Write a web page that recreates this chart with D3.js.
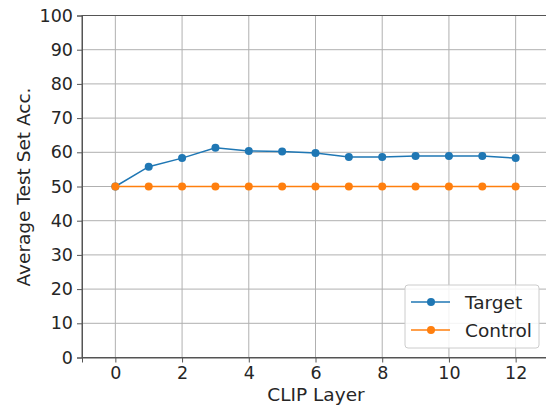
<!DOCTYPE html>
<html>
<head>
<meta charset="utf-8">
<script src="https://cdn.jsdelivr.net/npm/d3@7.9.0/dist/d3.min.js"></script>
<style>
  body { margin: 0; background: #fff; }
  text { font-family: "DejaVu Sans", sans-serif; fill: #262626; }
</style>
</head>
<body>
<svg id="chart" width="546" height="407"></svg>
<script>
const layers = [0, 1, 2, 3, 4, 5, 6, 7, 8, 9, 10, 11, 12];
const targetAcc = [50, 55.8, 58.3, 61.3, 60.4, 60.2, 59.8, 58.6, 58.6, 58.9, 58.9, 58.9, 58.3];
const controlAcc = [50, 50, 50, 50, 50, 50, 50, 50, 50, 50, 50, 50, 50];
const xTicks = [0, 2, 4, 6, 8, 10, 12];
const yTicks = [0, 10, 20, 30, 40, 50, 60, 70, 80, 90, 100];

const series = [
  { name: "Target", values: targetAcc, color: "#1f77b4" },
  { name: "Control", values: controlAcc, color: "#ff7f0e" }
];

const svg = d3.select("#chart");
const area = { left: 82, right: 549, top: 15.5, bottom: 357.5 };

const x = d3.scaleLinear().domain([-1, 13]).range([area.left, area.right]);
const y = d3.scaleLinear().domain([0, 100]).range([area.bottom, area.top]);

// grid
const grid = svg.append("g").attr("stroke", "#b0b0b0").attr("stroke-width", 1);
grid.selectAll(".gx").data(xTicks).join("line")
  .attr("x1", (d) => x(d)).attr("x2", (d) => x(d))
  .attr("y1", area.top).attr("y2", area.bottom);
grid.selectAll(".gy").data(yTicks).join("line")
  .attr("x1", area.left).attr("x2", area.right)
  .attr("y1", (d) => y(d)).attr("y2", (d) => y(d));

// frame
svg.append("rect")
  .attr("x", area.left).attr("y", area.top)
  .attr("width", area.right - area.left).attr("height", area.bottom - area.top)
  .attr("fill", "none").attr("stroke", "#555").attr("stroke-width", 1);

// axes
const xAxis = svg.append("g")
  .attr("transform", `translate(0,${area.bottom})`)
  .call(d3.axisBottom(x).tickValues(xTicks).tickSize(5).tickPadding(4));
const yAxis = svg.append("g")
  .attr("transform", `translate(${area.left},0)`)
  .call(d3.axisLeft(y).tickValues(yTicks).tickSize(5).tickPadding(4));
[xAxis, yAxis].forEach((a) => {
  a.select(".domain").attr("stroke", "#555");
  a.selectAll(".tick line").attr("stroke", "#555");
  a.selectAll(".tick text")
    .attr("font-family", "DejaVu Sans, sans-serif")
    .attr("font-size", 17.5)
    .attr("fill", "#262626");
});

// lines
const line = d3.line().x((d, i) => x(layers[i])).y((d) => y(d));
series.forEach((s) => {
  svg.append("path")
    .datum(s.values)
    .attr("fill", "none")
    .attr("stroke", s.color)
    .attr("stroke-width", 1.5)
    .attr("d", line);
  svg.append("g").selectAll("circle").data(s.values).join("circle")
    .attr("cx", (d, i) => x(layers[i]))
    .attr("cy", (d) => y(d))
    .attr("r", 4)
    .attr("fill", s.color);
});

// axis labels
svg.append("text")
  .attr("x", 316).attr("y", 401)
  .attr("text-anchor", "middle")
  .attr("font-size", 18.5)
  .text("CLIP Layer");
svg.append("text")
  .attr("transform", `translate(30,187) rotate(-90)`)
  .attr("text-anchor", "middle")
  .attr("font-size", 18.5)
  .text("Average Test Set Acc.");

// legend
const legend = svg.append("g").attr("transform", "translate(405,285)");
legend.append("rect")
  .attr("width", 134).attr("height", 63).attr("rx", 3)
  .attr("fill", "#fff").attr("fill-opacity", 0.85)
  .attr("stroke", "#ccc");
series.forEach((s, i) => {
  const g = legend.append("g").attr("transform", `translate(0,${17 + i * 28})`);
  g.append("line").attr("x1", 6).attr("x2", 45)
    .attr("stroke", s.color).attr("stroke-width", 1.5);
  g.append("circle").attr("cx", 26).attr("r", 4).attr("fill", s.color);
  g.append("text").attr("x", 60).attr("y", 6.5)
    .attr("font-size", 18.5).text(s.name);
});
</script>
</body>
</html>
